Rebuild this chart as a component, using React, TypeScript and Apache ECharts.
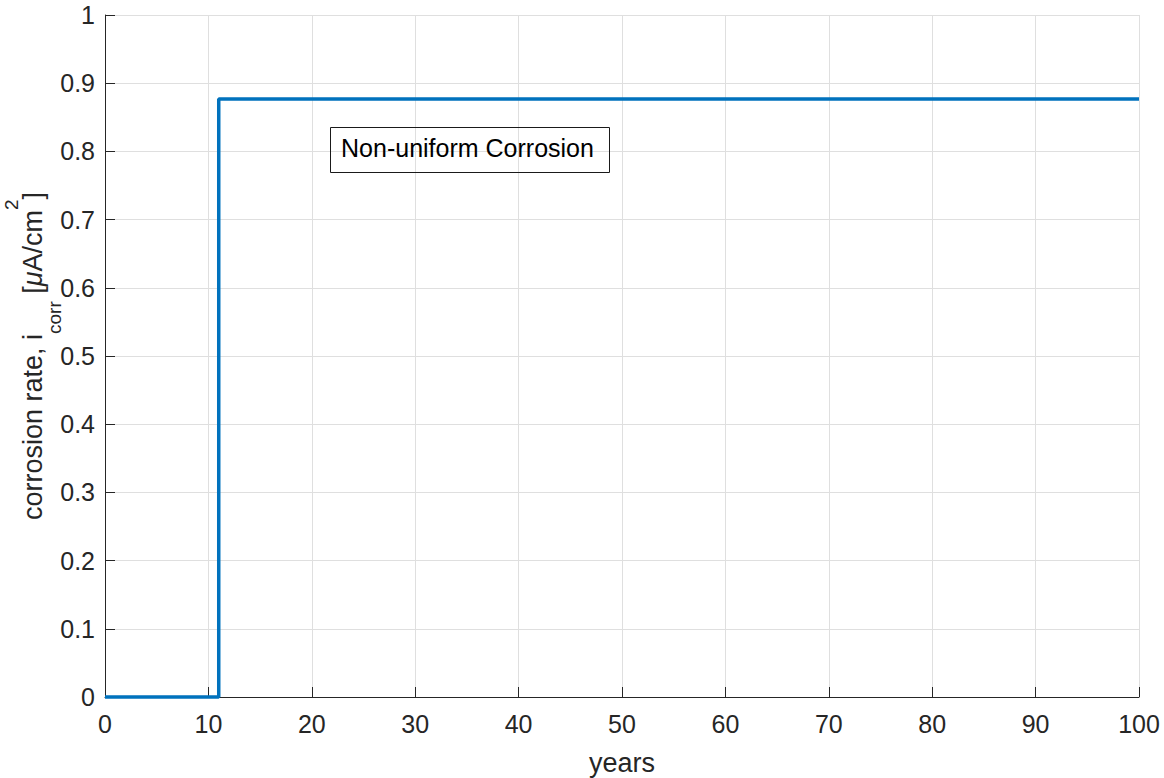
import React, { useEffect, useRef } from "react";
import * as echarts from "echarts";

// Step profile of the corrosion rate over the service life
const years = [0, 11, 11, 100];
const rate = [0, 0, 0.877, 0.877];

const xTickInterval = 10;
const yTickInterval = 0.1;
const noteText = "Non-uniform Corrosion";

const AXIS_COLOR = "#262626";
const GRID_COLOR = "#dfdfdf";
const LINE_COLOR = "#0072BD";
const FONT = "'Liberation Sans', Arial, Helvetica, sans-serif";

export default function App() {
  const ref = useRef<HTMLDivElement>(null);

  useEffect(() => {
    if (!ref.current) return;
    const chart = echarts.init(ref.current, undefined, { renderer: "svg" });

    const option: any = {
      animation: false,
      backgroundColor: "#ffffff",
      textStyle: { fontFamily: FONT },
      grid: {
        left: 105,
        right: 25,
        top: 15,
        bottom: 81,
        containLabel: false,
        outerBoundsMode: "none",
      },
      xAxis: {
        type: "value",
        min: 0,
        max: 100,
        interval: xTickInterval,
        name: "years",
        nameLocation: "middle",
        nameGap: 52,
        nameMoveOverlap: false,
        nameTextStyle: { fontSize: 27, color: AXIS_COLOR, fontFamily: FONT },
        axisLine: { show: true, lineStyle: { color: AXIS_COLOR, width: 1 } },
        axisTick: { show: true, inside: true, length: 10, lineStyle: { color: AXIS_COLOR } },
        axisLabel: { fontSize: 25, color: AXIS_COLOR, margin: 14, fontFamily: FONT },
        splitLine: { show: true, lineStyle: { color: GRID_COLOR, width: 1 } },
      },
      yAxis: {
        type: "value",
        min: 0,
        max: 1,
        interval: yTickInterval,
        name: "corrosion rate, i{sub|corr} [{mu|μ}A/cm{sup|2}]",
        nameLocation: "middle",
        nameRotate: 90,
        nameGap: 72,
        nameMoveOverlap: false,
        nameTextStyle: {
          fontSize: 27,
          color: AXIS_COLOR,
          fontFamily: FONT,
          lineHeight: 62,
          verticalAlign: "middle",
          rich: {
            sub: { fontSize: 19, color: AXIS_COLOR, fontFamily: FONT, verticalAlign: "bottom", lineHeight: 33 },
            sup: { fontSize: 19, color: AXIS_COLOR, fontFamily: FONT, verticalAlign: "top", lineHeight: 19 },
            mu: { fontSize: 27, color: AXIS_COLOR, fontFamily: FONT, fontStyle: "italic" },
          },
        },
        axisLine: { show: true, lineStyle: { color: AXIS_COLOR, width: 1 } },
        axisTick: { show: true, inside: true, length: 10, lineStyle: { color: AXIS_COLOR } },
        axisLabel: {
          fontSize: 25,
          color: AXIS_COLOR,
          margin: 10,
          fontFamily: FONT,
          formatter: (v: number) => String(Math.round(v * 10) / 10),
        },
        splitLine: { show: true, lineStyle: { color: GRID_COLOR, width: 1 } },
      },
      series: [
        {
          type: "line",
          data: years.map((x, i) => [x, rate[i]]),
          showSymbol: false,
          symbol: "none",
          clip: false,
          lineStyle: { color: LINE_COLOR, width: 3.5 },
          z: 5,
        },
      ],
      graphic: [
        {
          type: "rect",
          left: 328,
          top: 125,
          shape: { width: 279, height: 45 },
          style: { fill: "none", stroke: "#1a1a1a", lineWidth: 1 },
          z: 10,
        },
        {
          type: "text",
          x: 467.5,
          y: 148,
          style: {
            text: noteText,
            fontSize: 25,
            fontFamily: FONT,
            fill: "#000000",
            align: "center",
            verticalAlign: "middle",
          },
          z: 10,
        },
      ],
    };

    chart.setOption(option);
    return () => chart.dispose();
  }, []);

  return (
    <div
      ref={ref}
      style={{ position: "fixed", left: 0, top: 0, width: 1164, height: 778, background: "#fff" }}
    />
  );
}
